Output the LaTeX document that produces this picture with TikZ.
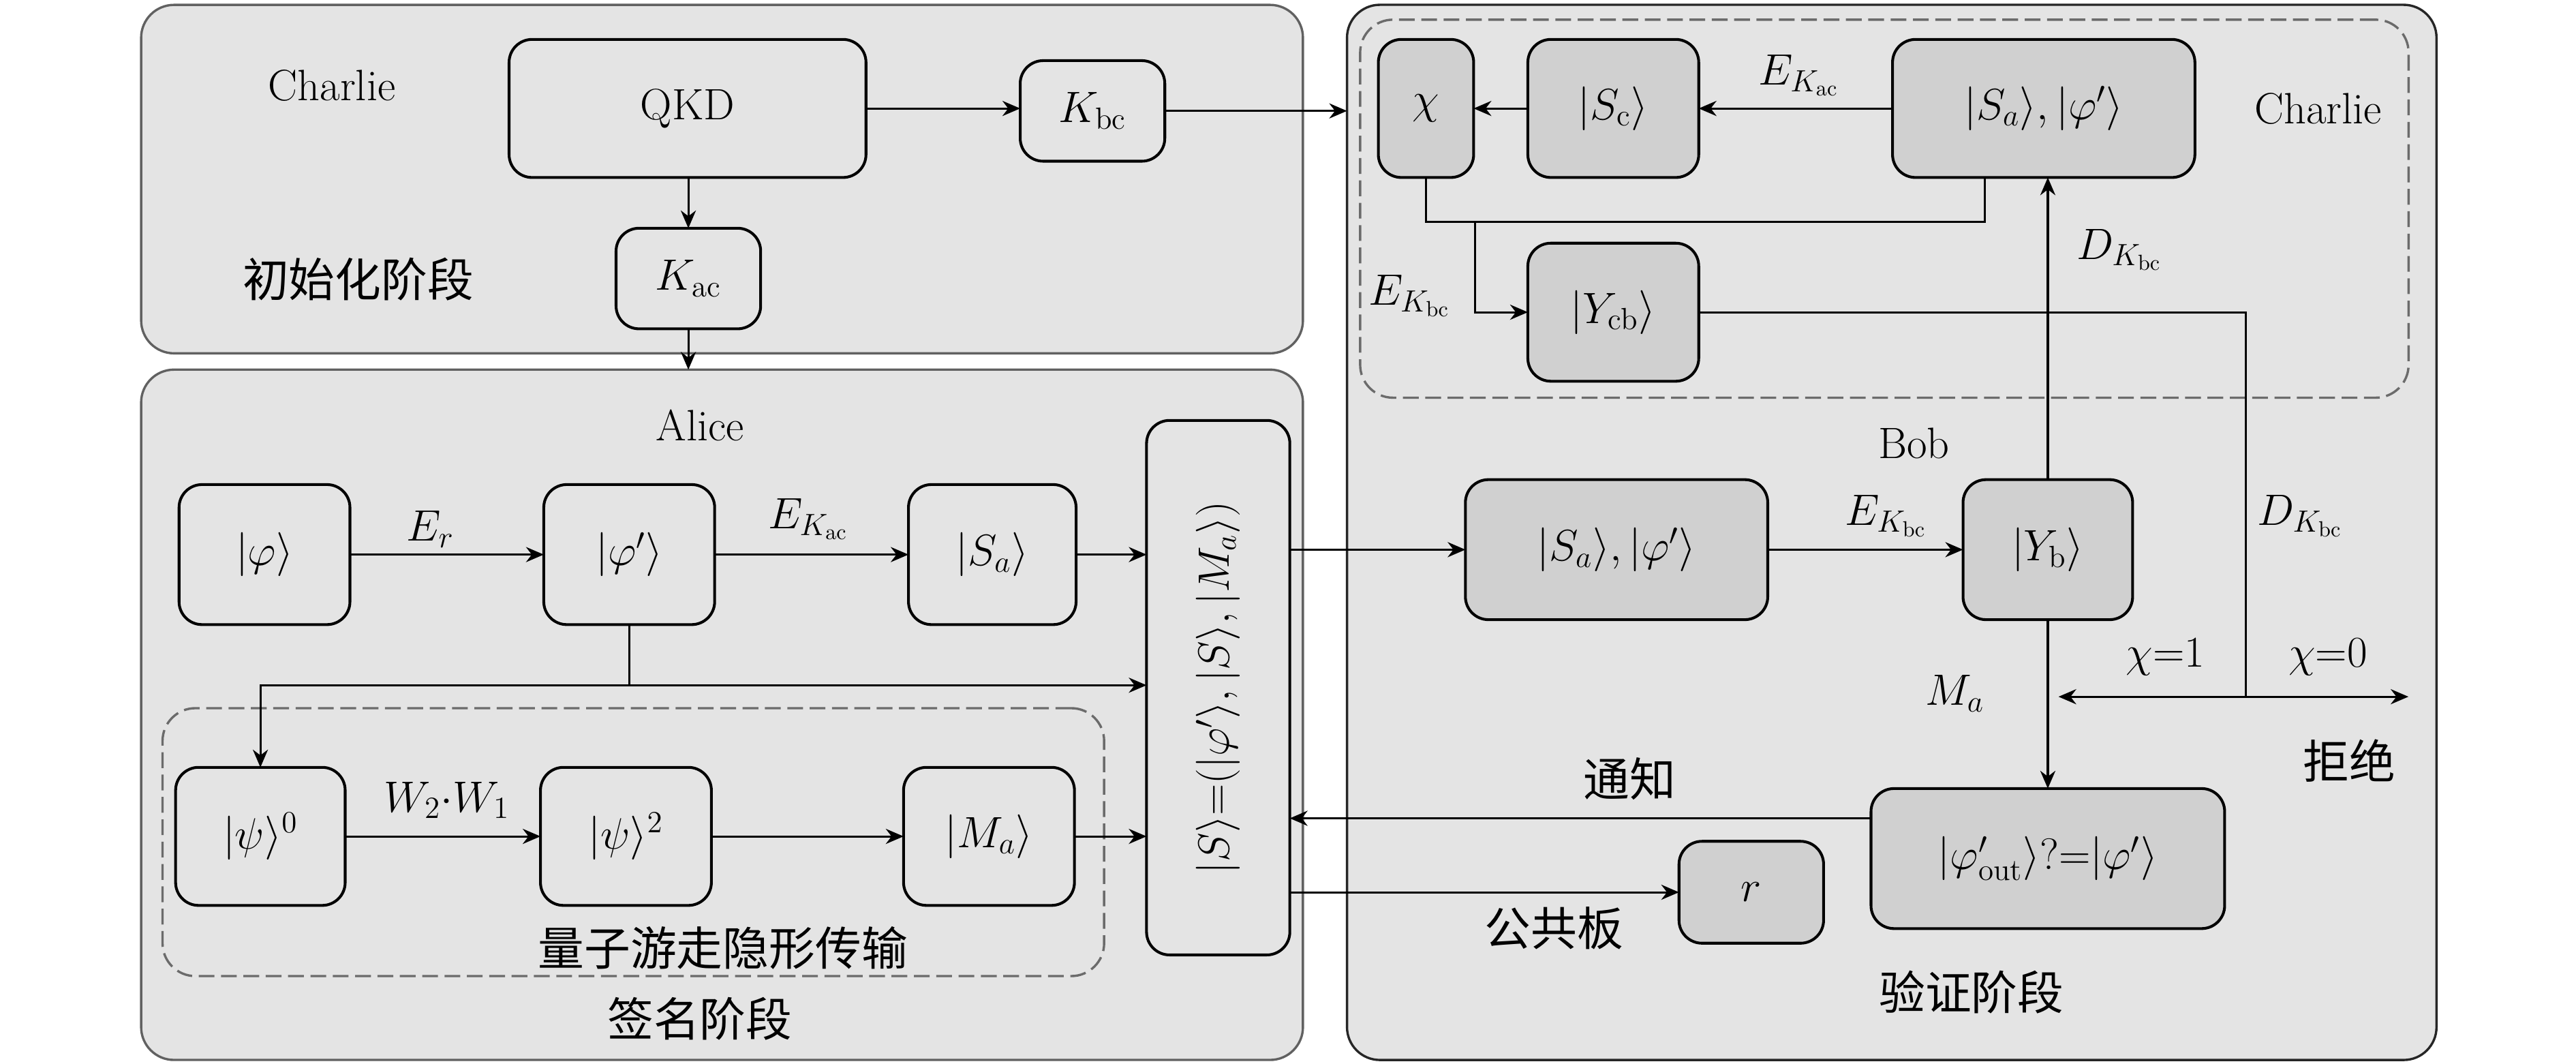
\documentclass[tikz,border=0pt]{standalone}
\usepackage{fix-cm}
\usepackage{fontspec}
\newfontfamily\cjk{Noto Sans CJK SC}
\usetikzlibrary{arrows.meta}
\definecolor{paneltone}{HTML}{E4E4E4}
\definecolor{boxdark}{HTML}{D0D0D0}
\begin{document}
\begin{tikzpicture}[x=0.025cm,y=-0.025cm,
  every node/.style={font=\fontsize{19}{23}\selectfont},
  cjktext/.style={font=\fontsize{20}{24}\selectfont\cjk},
  panelL/.style={draw=black!62,line width=1pt,fill=paneltone,rounded corners=0.5cm,inner sep=0pt,outer sep=0pt},
  panelR/.style={draw=black!85,line width=1pt,fill=paneltone,rounded corners=0.5cm,inner sep=0pt,outer sep=0pt},
  dashbox/.style={draw=black!58,line width=1pt,dash pattern=on 0.24cm off 0.1cm,rounded corners=0.5cm,inner sep=0pt,outer sep=0pt},
  lbox/.style={draw=black,line width=1.2pt,fill=paneltone,rounded corners=0.35cm,inner sep=0pt,outer sep=0pt},
  dbox/.style={lbox,fill=boxdark},
  line/.style={draw=black,line width=0.9pt},
  arr/.style={line,-{Stealth[length=0.27cm,width=0.23cm]}},
  dblarr/.style={line,{Stealth[length=0.27cm,width=0.23cm]}-{Stealth[length=0.27cm,width=0.23cm]}}
]
\useasboundingbox (0,0) rectangle (1568,647.5);
% panels
\node[panelL,minimum width=17.675cm,minimum height=5.3cm] (init) at (439.5,109) {};
\node[panelL,minimum width=17.675cm,minimum height=10.5cm] (alice) at (439.5,435) {};
\node[panelR,minimum width=16.575cm,minimum height=16.05cm] (bobp) at (1151.5,324) {};
\node[dashbox,minimum width=15.95cm,minimum height=5.75cm] (dashC) at (1147,127) {};
\node[dashbox,minimum width=14.325cm,minimum height=4.075cm] (dashQ) at (385.5,512.5) {};
% init nodes
\node[lbox,minimum width=5.43cm,minimum height=2.1cm] (qkd) at (418.5,66) {QKD};
\node[lbox,minimum width=2.2cm,minimum height=1.53cm] (kbc) at (665,67.5) {$K_{\mathrm{bc}}$};
\node[lbox,minimum width=2.2cm,minimum height=1.53cm] (kac) at (419,169.5) {$K_{\mathrm{ac}}$};
% Alice nodes
\node[lbox,minimum width=2.6cm,minimum height=2.13cm] (phi) at (161,337.5) {$|\varphi\rangle$};
\node[lbox,minimum width=2.6cm,minimum height=2.13cm] (phip) at (383,337.5) {$|\varphi'\rangle$};
\node[lbox,minimum width=2.55cm,minimum height=2.13cm] (sa) at (604,337.5) {$|S_a\rangle$};
\node[lbox,rotate=90,minimum width=8.13cm,minimum height=2.18cm] (big) at (741.5,418.5) {$|S\rangle{=}(|\varphi'\rangle,|S\rangle,|M_a\rangle)$};
\node[lbox,minimum width=2.58cm,minimum height=2.1cm] (psi0) at (158.5,509) {$|\psi\rangle^0$};
\node[lbox,minimum width=2.6cm,minimum height=2.1cm] (psi2) at (381,509) {$|\psi\rangle^2$};
\node[lbox,minimum width=2.6cm,minimum height=2.1cm] (ma) at (602,509) {$|M_a\rangle$};
% right side nodes
\node[dbox,minimum width=1.45cm,minimum height=2.1cm] (chi) at (868,66) {$\chi$};
\node[dbox,minimum width=2.6cm,minimum height=2.1cm] (sc) at (982,66) {$|S_{\mathrm{c}}\rangle$};
\node[dbox,minimum width=4.6cm,minimum height=2.1cm] (tsa) at (1244,66) {$|S_a\rangle,|\varphi'\rangle$};
\node[dbox,minimum width=2.6cm,minimum height=2.1cm] (ycb) at (982,190) {$|Y_{\mathrm{cb}}\rangle$};
\node[dbox,minimum width=4.6cm,minimum height=2.13cm] (msa) at (984,334.5) {$|S_a\rangle,|\varphi'\rangle$};
\node[dbox,minimum width=2.58cm,minimum height=2.13cm] (yb) at (1246.5,334.5) {$|Y_{\mathrm{b}}\rangle$};
\node[dbox,minimum width=5.38cm,minimum height=2.13cm] (ver) at (1246.5,522.5) {$|\varphi'_{\mathrm{out}}\rangle?{=}|\varphi'\rangle$};
\node[dbox,minimum width=2.2cm,minimum height=1.55cm] (r) at (1066,543) {$r$};
% connectors: init
\draw[arr] (qkd.east) -- (qkd.east -| kbc.west);
\draw[arr] (kbc.east) -- (kbc.east -| bobp.west);
\draw[arr] (kac.north |- qkd.south) -- (kac.north);
\draw[arr] (kac.south) -- (kac.south |- alice.north);
% Alice
\draw[arr] (phi) -- (phip);
\draw[arr] (phip) -- (sa);
\draw[arr] (sa.east) -- (sa.east -| big.north);
\coordinate (j1) at (383,417);
\draw[line] (phip.south) -- (j1);
\draw[arr] (j1) -- (j1 -| big.north);
\draw[arr] (j1) -| (psi0.north);
\draw[arr] (psi0) -- (psi2);
\draw[arr] (psi2) -- (ma);
\draw[arr] (ma.east) -- (ma.east -| big.north);
% Alice -> Bob
\draw[arr] (big.south |- msa) -- (msa.west);
\path ([yshift=0.6125cm]ver.west) coordinate (nt);
\draw[arr] (nt) -- (nt -| big.south);
\draw[arr] (big.south |- r) -- (r.west);
% Bob / Charlie
\draw[arr] (msa) -- (yb);
\draw[arr] (yb.north) -- (yb.north |- tsa.south);
\draw[arr] (yb.south) -- (ver.north);
\draw[arr] (tsa) -- (sc);
\draw[arr] (sc) -- (chi);
\coordinate (j2) at (898,135);
\path ([xshift=-0.9cm]tsa.south) coordinate (tsb);
\draw[line] (chi.south) |- (tsb |- j2) -- (tsb);
\draw[arr] (j2) |- (ycb.west);
\coordinate (j3) at (1367,424);
\draw[line] (ycb.east) -| (j3);
\coordinate (dl) at (1253,424);
\coordinate (dr) at (1466,424);
\draw[dblarr] (dl) -- (dr);
% labels
\node (lcharlie1) at (202,52) {Charlie};
\node[cjktext] (linit) at (218,170) {初始化阶段};
\node (lalice) at (426,259) {Alice};
\node[cjktext] (lsign) at (426,620) {签名阶段};
\node[cjktext] (lqw) at (440,577) {量子游走隐形传输};
\node (ler) at (262,322) {$E_r$};
\node (lekac1) at (492,316) {$E_{K_{\mathrm{ac}}}$};
\node (lw) at (272,487) {$W_2{\cdot}W_1$};
\node (lcharlie2) at (1411,66) {Charlie};
\node (lekac2) at (1095,46) {$E_{K_{\mathrm{ac}}}$};
\node (lekbc1) at (858,180) {$E_{K_{\mathrm{bc}}}$};
\node (ldkbc1) at (1290,152) {$D_{K_{\mathrm{bc}}}$};
\node (lbob) at (1165,270) {Bob};
\node (lekbc2) at (1148,314) {$E_{K_{\mathrm{bc}}}$};
\node (ldkbc2) at (1400,314) {$D_{K_{\mathrm{bc}}}$};
\node (lchi1) at (1318,400) {$\chi{=}1$};
\node (lchi0) at (1417,400) {$\chi{=}0$};
\node (lma) at (1190,422) {$M_a$};
\node[cjktext] (lrej) at (1430,463) {拒绝};
\node[cjktext] (lnot) at (992,474) {通知};
\node[cjktext] (lpub) at (946,565) {公共板};
\node[cjktext] (lver) at (1200,604) {验证阶段};
\end{tikzpicture}
\end{document}
